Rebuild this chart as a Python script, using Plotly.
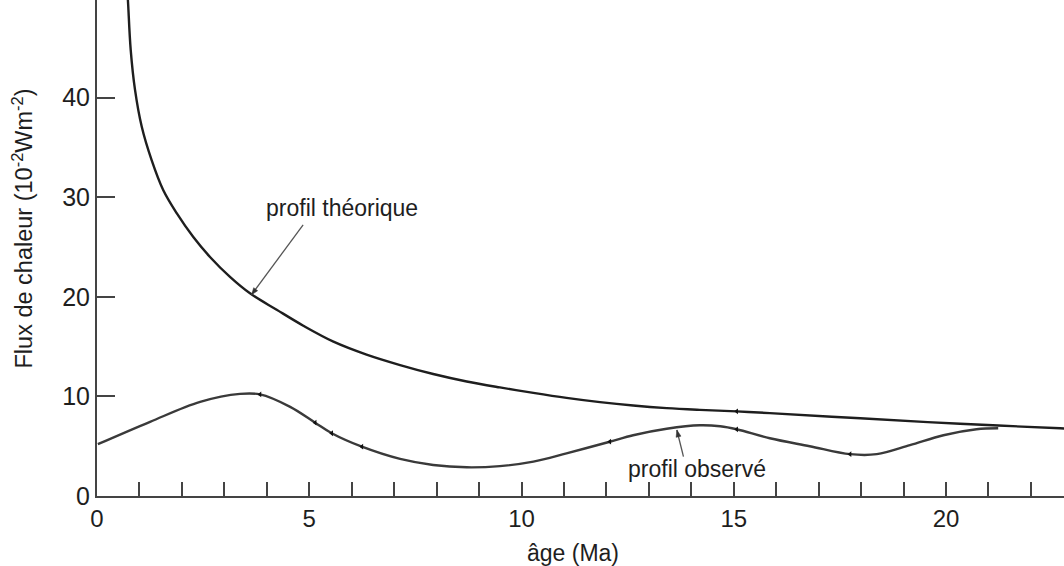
import plotly.graph_objects as go

# Theoretical profile (age in Ma, heat flux in 10^-2 W m^-2)
theo_age = [0.728, 0.737, 0.794, 0.895, 1.053, 1.289, 1.562, 1.877, 2.269, 2.662,
            3.133, 3.604, 4.233, 4.86, 5.57, 6.35, 7.14, 7.92, 8.71, 9.49,
            10.28, 11.06, 11.85, 12.63, 13.42, 14.2, 15.07, 15.85, 17.98, 20.33,
            22.69, 22.8]
theo_flux = [49.8, 49.1, 44.8, 40.8, 37.1, 33.7, 30.7, 28.4, 26.0, 24.0,
             22.0, 20.35, 18.7, 17.1, 15.5, 14.2, 13.15, 12.25, 11.5, 10.9,
             10.35, 9.85, 9.42, 9.08, 8.82, 8.65, 8.5, 8.32, 7.8, 7.25,
             6.8, 6.77]

# Observed profile
obs_age = [0.02, 1.25, 2.43, 3.37, 3.84, 4.55, 5.14, 5.53, 6.24, 7.14, 7.92,
           8.71, 9.49, 10.28, 11.06, 12.08, 12.63, 13.42, 14.2, 14.68, 15.07,
           15.85, 16.79, 17.74, 18.37, 19.15, 19.94, 20.72, 21.23]
obs_flux = [5.2, 7.45, 9.45, 10.25, 10.2, 8.95, 7.36, 6.3, 4.95, 3.72, 3.11,
            2.88, 3.0, 3.45, 4.28, 5.45, 6.1, 6.75, 7.1, 7.0, 6.7,
            5.8, 5.0, 4.2, 4.2, 5.1, 6.1, 6.7, 6.8]

# small marks drawn on the curves
mark_age = [3.84, 5.14, 5.53, 6.24, 12.08, 15.07, 17.74, 15.07]
mark_flux = [10.2, 7.36, 6.3, 4.95, 5.45, 6.7, 4.2, 8.5]

x_tick_vals = [0, 5, 10, 15, 20]
y_tick_vals = [0, 10, 20, 30, 40]

FONT = "Liberation Sans, Arial, Helvetica, sans-serif"
INK = "#1e1e1e"
AXIS = "#444444"
ARROW = "#555555"

fig = go.Figure()
fig.add_trace(go.Scatter(x=theo_age, y=theo_flux, mode="lines",
                         line=dict(color="#1e1e1e", width=2.4, shape="spline", smoothing=1.0),
                         hoverinfo="skip", showlegend=False))
fig.add_trace(go.Scatter(x=obs_age, y=obs_flux, mode="lines",
                         line=dict(color="#3a3a3a", width=2.4, shape="spline", smoothing=1.0),
                         hoverinfo="skip", showlegend=False))
fig.add_trace(go.Scatter(x=mark_age, y=mark_flux, mode="markers",
                         marker=dict(symbol="triangle-left", size=5, color="#111111"),
                         hoverinfo="skip", showlegend=False))


def arrow_shapes(hx, hy, path_line, path_head):
    common = dict(xref="x", yref="y", xsizemode="pixel", ysizemode="pixel",
                  xanchor=hx, yanchor=hy, layer="above")
    return [
        dict(type="path", path=path_line, line=dict(color=ARROW, width=1.3), **common),
        dict(type="path", path=path_head, fillcolor="#333333",
             line=dict(color="#333333", width=0.5), **common),
    ]


shapes = []
# arrow to "profil théorique" (head on the curve, tail below the label)
shapes += arrow_shapes(3.64, 20.2, "M 0,0 L 51.6,70",
                       "M 0,0 L 6.15,4.15 L 2.15,7.11 Z")
# arrow to "profil observé"
shapes += arrow_shapes(13.66, 6.63, "M 0,0 L 6.6,-26.7",
                       "M 0,0 L 4.11,-6.2 L -0.75,-7.4 Z")

fig.update_layout(
    width=1064, height=566,
    margin=dict(l=97, r=0, t=0, b=70, pad=0),
    paper_bgcolor="white", plot_bgcolor="white",
    font=dict(family=FONT, color=INK),
    shapes=shapes,
    xaxis=dict(range=[0, 22.78], showgrid=False, zeroline=False,
               showline=True, linecolor=AXIS, linewidth=2,
               tickvals=x_tick_vals, ticktext=[str(v) for v in x_tick_vals],
               ticks="inside", ticklen=14, tickwidth=2, tickcolor=AXIS,
               minor=dict(dtick=1, tick0=0, ticks="inside", ticklen=14,
                          tickwidth=2, tickcolor=AXIS, showgrid=False),
               tickfont=dict(size=24, family=FONT, color=INK)),
    yaxis=dict(range=[0, 49.8], showgrid=False, zeroline=False,
               showline=True, linecolor=AXIS, linewidth=2,
               tickvals=y_tick_vals, ticktext=[str(v) for v in y_tick_vals],
               ticks="inside", ticklen=18, tickwidth=2, tickcolor=AXIS,
               tickfont=dict(size=25, family=FONT, color=INK)),
    annotations=[
        dict(text="Flux de chaleur (10<sup>-2</sup>Wm<sup>-2</sup>)", textangle=-90,
             xref="paper", yref="paper", x=(22 - 97) / 967, y=(496 - 228.5) / 496,
             xanchor="center", yanchor="middle", showarrow=False,
             font=dict(size=23.5, family=FONT, color=INK)),
        dict(text="âge (Ma)", xref="paper", yref="paper",
             x=(572.5 - 97) / 967, y=(496 - 553) / 496,
             xanchor="center", yanchor="middle", showarrow=False,
             font=dict(size=23, family=FONT, color=INK)),
        dict(text="profil théorique", xref="x", yref="y", x=5.77, y=28.9,
             xanchor="center", yanchor="middle", showarrow=False,
             font=dict(size=23, family=FONT, color=INK)),
        dict(text="profil observé", xref="x", yref="y", x=14.13, y=2.71,
             xanchor="center", yanchor="middle", showarrow=False,
             font=dict(size=23, family=FONT, color=INK)),
    ],
)

fig.write_html("out.html")
